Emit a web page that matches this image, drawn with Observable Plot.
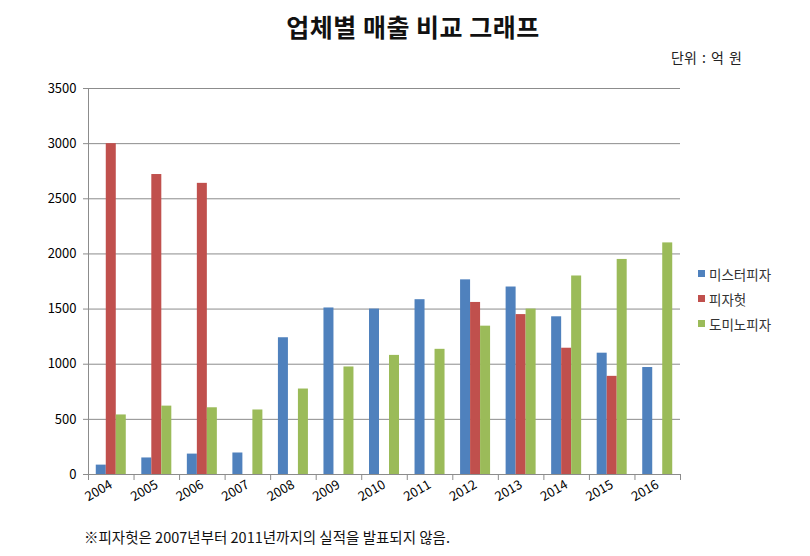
<!DOCTYPE html>
<html><head><meta charset="utf-8">
<script src="https://cdn.jsdelivr.net/npm/d3@7"></script>
<script src="https://cdn.jsdelivr.net/npm/@observablehq/plot@0.6"></script>
<style>
body{margin:0;background:#fff;font-family:'Noto Sans CJK KR','Noto Sans',sans-serif;}
#wrap{position:relative;width:810px;height:556px;overflow:hidden;background:#fff}
#title{position:absolute;left:0;width:826px;top:9px;text-align:center;font-size:25px;font-weight:bold;color:#111;line-height:34px;letter-spacing:0.5px}
#unit{position:absolute;left:671px;top:47px;font-size:14px;color:#222;line-height:20px;word-spacing:2px}
#chart{position:absolute;left:0;top:70px}
#legend{position:absolute;left:698px;top:261px;font-size:13.5px;color:#333}
#legend div{height:25px;line-height:22px;display:flex;align-items:center}
#legend span.sw{display:inline-block;width:7px;height:7px;margin-right:4px}
#note{position:absolute;left:84px;top:527px;font-size:14.5px;color:#111;line-height:20px}
</style></head><body>
<div id="wrap">
  <div id="title">업체별 매출 비교 그래프</div>
  <div id="unit">단위 : 억 원</div>
  <div id="chart"></div>
  <div id="legend"></div>
  <div id="note">※피자헛은 2007년부터 2011년까지의 실적을 발표되지 않음.</div>
</div>
<script>
const years = ["2004","2005","2006","2007","2008","2009","2010","2011","2012","2013","2014","2015","2016"];
const misterPizza = [85,150,185,195,1240,1510,1500,1585,1765,1700,1430,1100,970];
const pizzaHut = [3000,2720,2640,null,null,null,null,null,1560,1450,1145,890,null];
const dominoPizza = [540,620,605,585,775,975,1080,1135,1345,1500,1800,1950,2100];
const seriesNames = ["미스터피자","피자헛","도미노피자"];
const seriesColors = ["#4F81BD","#C0504D","#9BBB59"];
const yTicks = [0,500,1000,1500,2000,2500,3000,3500];

const W = 810, ML = 88, MR = 130;
const step = (W - ML - MR) / years.length;
const barW = 10;
const allSeries = [misterPizza, pizzaHut, dominoPizza];

const barMarks = allSeries.map((vals, k) => {
  const data = years.map((y, i) => ({year: y, value: vals[i]})).filter(d => d.value != null);
  const insetLeft = step / 2 - 1.5 * barW + k * barW;
  const insetRight = step - insetLeft - barW;
  return Plot.barY(data, {x: "year", y: "value", fill: seriesColors[k], insetLeft, insetRight});
});

const chart = Plot.plot({
  width: W,
  height: 454,
  marginLeft: ML,
  marginRight: MR,
  marginTop: 18,
  marginBottom: 50,
  style: {fontFamily: "'Noto Sans CJK KR','Noto Sans',sans-serif", fontSize: "13px", background: "#fff"},
  x: {type: "band", domain: years, paddingInner: 0, paddingOuter: 0, round: false},
  y: {domain: [0, 3500]},
  marks: [
    Plot.gridY(yTicks, {stroke: "#8c8c8c", strokeOpacity: 1}),
    Plot.axisY({ticks: yTicks, tickSize: 5, tickPadding: 7, stroke: "#8c8c8c", label: null, fontSize: 13, tickFormat: d => String(d)}),
    Plot.ruleX([years[0]], {dx: -step / 2, stroke: "#8c8c8c"}),
    ...barMarks,
    Plot.ruleY([0], {stroke: "#8c8c8c"}),
    Plot.axisX({tickSize: 6, dx: -step / 2, tickFormat: () => "", stroke: "#8c8c8c", label: null}),
    Plot.axisX({ticks: [years[years.length - 1]], tickSize: 6, dx: step / 2, tickFormat: () => "", stroke: "#8c8c8c", label: null}),
    Plot.axisX({tickSize: 0, tickRotate: -30, tickPadding: 9, label: null, fontSize: 13})
  ]
});
document.getElementById("chart").appendChild(chart);

const legend = document.getElementById("legend");
seriesNames.forEach((name, k) => {
  const row = document.createElement("div");
  const sw = document.createElement("span");
  sw.className = "sw";
  sw.style.background = seriesColors[k];
  row.appendChild(sw);
  row.appendChild(document.createTextNode(name));
  legend.appendChild(row);
});
</script>
</body></html>
